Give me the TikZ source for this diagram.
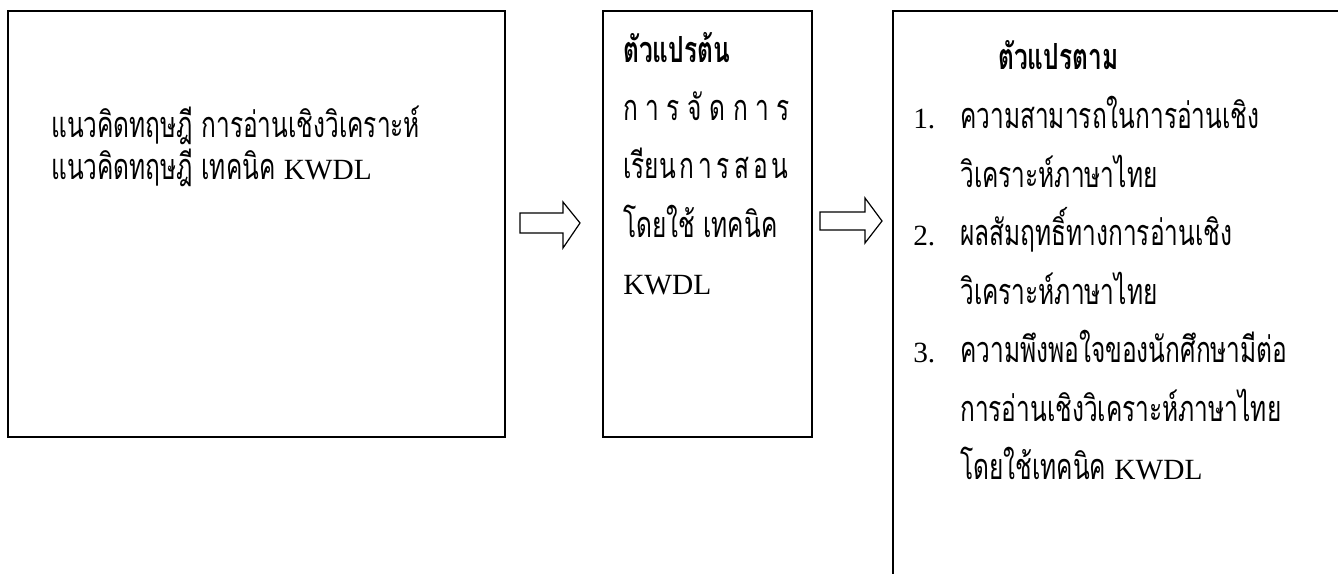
\documentclass[tikz,border=0pt]{standalone}
\usepackage{fontspec}
\setmainfont{Liberation Serif}
\newfontfamily\thaifont[Script=Thai,FakeStretch=0.68]{Loma}
\usetikzlibrary{positioning}

\newcommand{\lat}[1]{{\rmfamily\fontsize{22}{26}\selectfont #1}}

\tikzset{
    thaitext/.style={anchor=base west, inner sep=0pt, font=\thaifont\fontsize{27}{30}\selectfont},
    boxline/.style={line width=1pt},
    blockarrow/.style={line width=0.9pt, fill=white}
}

\begin{document}
\begin{tikzpicture}[x=0.75pt,y=0.75pt,yscale=-1,xscale=1]
        \clip (0,0) rectangle (1338,574);
        \fill[white] (0,0) rectangle (1338,574);
        %Box: theory
        \draw [boxline] (8,11) rectangle (505,437);
        %Box: independent variable
        \draw [boxline] (603,11) rectangle (812,437);
        %Box: dependent variable (runs off the page)
        \draw [boxline] (893,11) rectangle (1360,600);
        %Block arrow 1
        \draw [blockarrow] (520,213) -- (563,213) -- (563,202) -- (580,223) -- (563,248) -- (563,233) -- (520,233) -- cycle ;
        %Block arrow 2
        \draw [blockarrow] (820,212) -- (865,212) -- (865,198) -- (882,221) -- (865,243) -- (865,230) -- (820,230) -- cycle ;
        % Text Node
        \draw (51,138) node (theoryA) [thaitext] {แนวคิดทฤษฎี การอ่านเชิงวิเคราะห์};
        % Text Node
        \draw (51,180) node (theoryB) [thaitext] {แนวคิดทฤษฎี เทคนิค \lat{KWDL}};
        % Text Node
        \draw (623,63) node (indepTitle) [thaitext] {\bfseries ตัวแปรต้น};
        % Text Node
        \draw (623,121) node (indepA) [thaitext] {\makebox[125pt][s]{ก\hfill า\hfill ร\hfill จั\hfill ด\hfill ก\hfill า\hfill ร}};
        % Text Node
        \draw (623,179) node (indepB) [thaitext] {\makebox[124pt][s]{เรียน\hfill ก\hfill า\hfill ร\hfill ส\hfill อ\hfill น}};
        % Text Node
        \draw (623,237) node (indepC) [thaitext] {โดยใช้ เทคนิค};
        % Text Node
        \draw (623,294) node (indepD) [thaitext] {\lat{KWDL}};
        % Text Node
        \draw (998,70) node (depTitle) [thaitext] {\bfseries ตัวแปรตาม};
        % Text Node
        \draw (913,128.5) node (numA) [thaitext] {\lat{1.}};
        \draw (960,128.5) node (depA) [thaitext] {ความสามารถในการอ่านเชิง};
        \draw (960,187) node (depAb) [thaitext] {วิเคราะห์ภาษาไทย};
        % Text Node
        \draw (913,245.5) node (numB) [thaitext] {\lat{2.}};
        \draw (960,245.5) node (depB) [thaitext] {ผลสัมฤทธิ์ทางการอ่านเชิง};
        \draw (960,304) node (depBb) [thaitext] {วิเคราะห์ภาษาไทย};
        % Text Node
        \draw (913,362.5) node (numC) [thaitext] {\lat{3.}};
        \draw (960,362.5) node (depC) [thaitext] {ความพึงพอใจของนักศึกษามีต่อ};
        \draw (960,421) node (depCb) [thaitext] {การอ่านเชิงวิเคราะห์ภาษาไทย};
        \draw (960,479.5) node (depCc) [thaitext] {โดยใช้เทคนิค \lat{KWDL}};
\end{tikzpicture}
\end{document}
